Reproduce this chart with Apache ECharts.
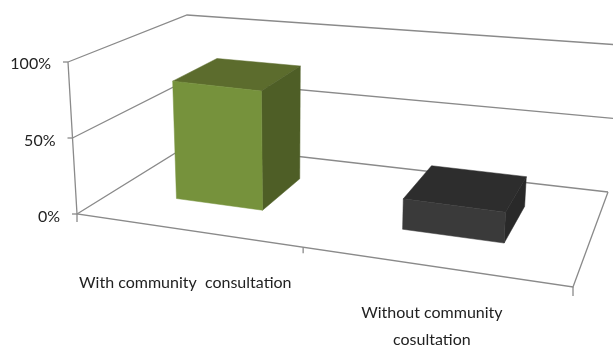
<!DOCTYPE html>
<html><head><meta charset="utf-8">
<style>html,body{margin:0;padding:0;background:#fff}#c{width:613px;height:348px}</style>
<script src="https://cdn.jsdelivr.net/npm/echarts@6/dist/echarts.min.js"></script>
</head><body><div id="c"></div>
<script>
const categories = ['With community  consultation', 'Without community\ncosultation'];
const values = [80, 20];
const valueTicks = [0, 50, 100];
const tickLabels = ['0%', '50%', '100%'];
const faceColors = [
  {front:'#76923c', top:'#5c6c2d', side:'#4e5e26'},
  {front:'#3a3a3a', top:'#2d2d2d', side:'#292929'}
];

// layout: the unskewed front plane of the box, and how it is projected
const G = {left:77, top:62, width:496, height:152};
const floor = {A:[77,214], B:[573,287], D:[608,192], C:[190,144]};
const up = {A:[-9,-152], B:[8,-160], D:[12,-147], C:[-3,-129]};
const barW = 0.40, barD0 = 0.30, barD1 = 0.71;

function homography(p0,p1,p2,p3){ // unit square (0,0),(1,0),(1,1),(0,1)
  const dx1=p1[0]-p2[0],dx2=p3[0]-p2[0],sx=p0[0]-p1[0]+p2[0]-p3[0];
  const dy1=p1[1]-p2[1],dy2=p3[1]-p2[1],sy=p0[1]-p1[1]+p2[1]-p3[1];
  const det=dx1*dy2-dx2*dy1;
  const g=(sx*dy2-dx2*sy)/det,h=(dx1*sy-sx*dy1)/det;
  return {a:p1[0]-p0[0]+g*p1[0],b:p3[0]-p0[0]+h*p3[0],c:p0[0],
          d:p1[1]-p0[1]+g*p1[1],e:p3[1]-p0[1]+h*p3[1],f:p0[1],g,h};
}
const H = homography(floor.A,floor.B,floor.D,floor.C);
// g = library pixel on the front plane, depth 0..1
function project(g,depth){
  const u=(g[0]-G.left)/G.width, v=(G.top+G.height-g[1])/G.height;
  const w=H.g*u+H.h*depth+1;
  const x=(H.a*u+H.b*depth+H.c)/w, y=(H.d*u+H.e*depth+H.f)/w;
  const mix=k=>(1-u)*(1-depth)*up.A[k]+u*(1-depth)*up.B[k]+u*depth*up.D[k]+(1-u)*depth*up.C[k];
  return [x+mix(0)*v, y+mix(1)*v];
}
const LINE={stroke:'#8a8a8a',lineWidth:1.3,fill:null};
const poly=(pts,fill)=>({type:'polygon',shape:{points:pts},style:{fill,stroke:fill,lineWidth:0.5}});
const seg=(a,b)=>({type:'line',shape:{x1:a[0],y1:a[1],x2:b[0],y2:b[1]},style:LINE});
const pl=pts=>({type:'polyline',shape:{points:pts},style:LINE});

const chart=echarts.init(document.getElementById('c'),null,{renderer:'canvas'});
chart.setOption({
  animation:false,
  backgroundColor:'#fff',
  grid:{left:G.left,top:G.top,width:G.width,height:G.height},
  xAxis:{type:'category',data:categories,show:false},
  yAxis:{type:'value',min:0,max:100,interval:50,show:false},
  series:[
    { // walls, gridlines and value labels
      type:'custom',coordinateSystem:'cartesian2d',clip:false,silent:true,z:1,
      data:valueTicks.map((t,i)=>[0,t,tickLabels[i]]),
      renderItem(p,api){
        const v=api.value(1);
        const y=api.coord([0,v])[1];
        const L=G.left,R=G.left+G.width;
        const f=project([L,y],0),b=project([L,y],1),r=project([R,y],1);
        const ch=[pl([f,b,r]),seg([f[0]-5,f[1]],f),
          {type:'text',style:{x:f[0]-17,y:f[1]+(v===100?2:3),text:tickLabels[p.dataIndex],align:'right',verticalAlign:'middle',
            font:'16px Lato',fill:'#222'}}];
        return {type:'group',children:ch};
      }
    },
    { // floor edge, left axis, category ticks and labels
      type:'custom',coordinateSystem:'cartesian2d',clip:false,silent:true,z:2,
      data:[[0,0]],
      renderItem(p,api){
        const b=api.coord([0,0])[1], t=api.coord([0,100])[1];
        const L=G.left,R=G.left+G.width,M=(L+R)/2;
        const a0=project([L,b],0),a1=project([L,t],0),fr=project([R,b],0),br=project([R,b],1),m=project([M,b],0);
        return {type:'group',children:[
          pl([a1,a0,fr,br]),
          seg(a0,[a0[0],a0[1]+8]),seg(m,[m[0],m[1]+6]),seg(fr,[fr[0],fr[1]+9])
        ]};
      }
    },
    { // category labels
      type:'custom',coordinateSystem:'cartesian2d',clip:false,silent:true,z:3,
      data:categories.map((c,i)=>[i,0]),
      renderItem(p,api){
        const c=api.coord([api.value(0),0]);
        const q=project(c,0);
        const twoLine=categories[p.dataIndex].includes('\n');
        return {type:'text',style:{x:q[0],y:q[1]+(twoLine?33:39),text:categories[p.dataIndex],align:'center',verticalAlign:'top',
          font:'16px Lato',lineHeight:27,fill:'#222'}};
      }
    },
    { // bars
      type:'custom',coordinateSystem:'cartesian2d',clip:false,silent:true,z:4,
      data:values.map((v,i)=>[i,v]),
      renderItem(p,api){
        const c=api.coord([api.value(0),api.value(1)]);
        const b=api.coord([api.value(0),0])[1];
        const hw=api.size([1,0])[0]*barW/2;
        const x0=c[0]-hw,x1=c[0]+hw,col=faceColors[p.dataIndex];
        const P=(x,y,d)=>project([x,y],d);
        const fTL=P(x0,c[1],barD0),fTR=P(x1,c[1],barD0),fBR=P(x1,b,barD0),fBL=P(x0,b,barD0);
        const bTL=P(x0,c[1],barD1),bTR=P(x1,c[1],barD1),bBR=P(x1,b,barD1);
        return {type:'group',children:[
          poly([fTL,fTR,bTR,bTL],col.top),
          poly([fTR,bTR,bBR,fBR],col.side),
          poly([fTL,fTR,fBR,fBL],col.front)
        ]};
      }
    }
  ]
});
</script></body></html>
